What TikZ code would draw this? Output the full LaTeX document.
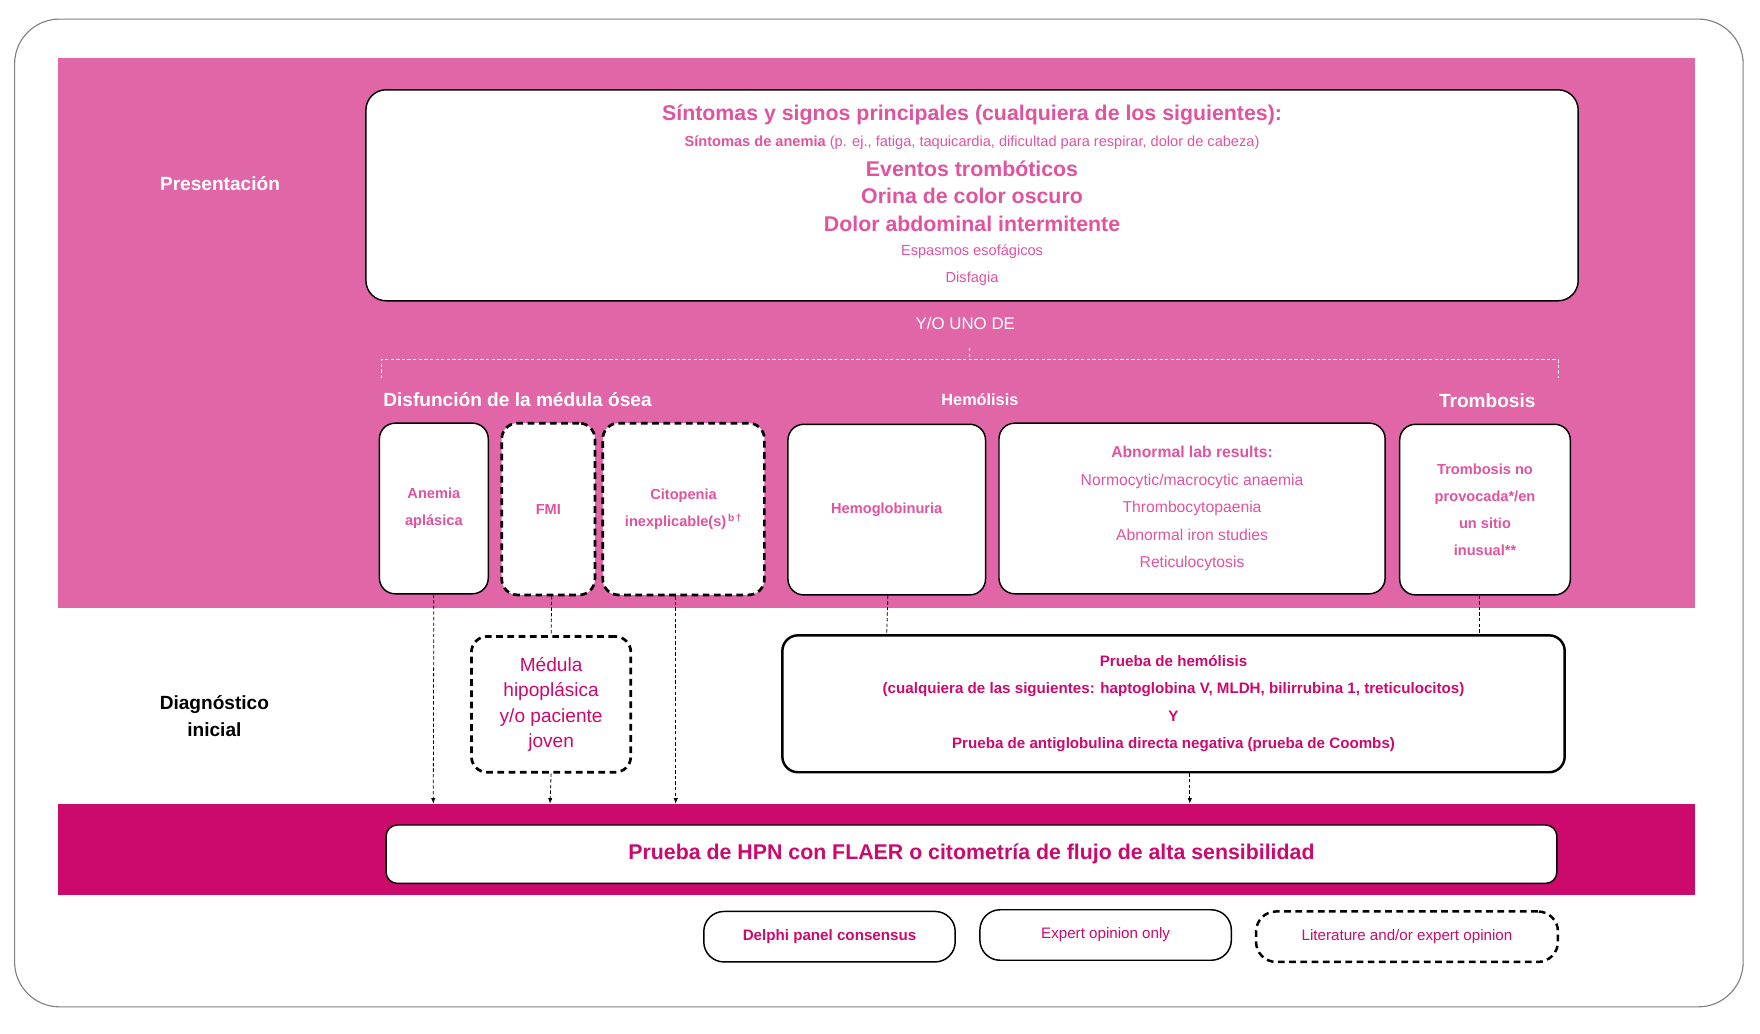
\documentclass[tikz,border=0pt]{standalone}
\usepackage{fontspec}
\setmainfont{Liberation Sans}
\usepackage{tikz}
\usetikzlibrary{arrows, positioning}
\definecolor{rosa}{HTML}{E166A7}
\definecolor{rosatxt}{HTML}{E0539E}
\definecolor{magenta}{HTML}{CC0A6E}
\begin{document}
\begin{tikzpicture}[x=1pt, y=-1pt,
    box/.style={rectangle, rounded corners=14pt, draw=black, line width=1.3pt, fill=white, align=center, text=rosatxt, font=\fontsize{13}{24}\selectfont\bfseries, inner sep=2pt},
    dbox/.style={box, dashed, line width=2.4pt, dash pattern=on 6pt off 4pt},
    leg/.style={rectangle, rounded corners=18pt, draw=black, line width=1.3pt, fill=white, text=magenta, font=\fontsize{13.5}{16}\selectfont, minimum width=224pt, minimum height=45pt},
    head/.style={text=white, font=\fontsize{17}{20}\selectfont\bfseries},
    link/.style={densely dashed, line width=0.7pt},
    arr/.style={link, -latex}]
    \useasboundingbox (0,0) rectangle (1568,921);
    \draw[gray, line width=1pt, rounded corners=40pt, fill=white] (13,17) rectangle (1553,897);
    \fill[rosa] (52,52) rectangle (1510,542);
    \fill[magenta] (52,716) rectangle (1510,797);
    % presentacion
    \node[head, font=\fontsize{17}{20}\selectfont\bfseries] (pres) at (196,164) {Presentación};
    \node[box, minimum width=1080pt, minimum height=188pt, rounded corners=18pt, font=\fontsize{13}{20}\selectfont] (sint) at (866,174) {};
    \node[text=rosatxt, align=center, font=\fontsize{19}{24.5}\selectfont\bfseries] (sinttxt) at (866,174) {%
        Síntomas y signos principales (cualquiera de los siguientes):\\[-1pt]
        {\fontsize{13}{20}\selectfont Síntomas de anemia \mdseries(p. ej., fatiga, taquicardia, dificultad para respirar, dolor de cabeza)}\\[2pt]
        Eventos trombóticos\\
        Orina de color oscuro\\
        Dolor abdominal intermitente\\[-3pt]
        {\fontsize{13}{23}\selectfont\mdseries Espasmos esofágicos}\\
        {\fontsize{13}{20}\selectfont\mdseries Disfagia}};
    \node[text=white, font=\fontsize{15}{18}\selectfont] (yo) at (860,288) {Y/O UNO DE};
    \coordinate (bl) at (340,337);
    \coordinate (br) at (1388,337);
    \coordinate (bm) at (864,310);
    \draw[white, link] (bl) |- (864,320) -| (br);
    \draw[white, link] (bm) -- (864,320);
    \node[head, anchor=west] (disf) at (338,356) {Disfunción de la médula ósea};
    \node[head, font=\fontsize{14.5}{18}\selectfont\bfseries] (hemo) at (873,356) {Hemólisis};
    \node[head] (trom) at (1325,357) {Trombosis};
    % row of boxes
    \node[box, minimum width=97pt, minimum height=152pt] (anemia) at (386.5,453) {Anemia\\aplásica};
    \node[dbox, minimum width=83pt, minimum height=153pt] (fmi) at (488.5,453.5) {FMI};
    \node[dbox, minimum width=144pt, minimum height=153pt] (cito) at (609,453.5) {Citopenia\\inexplicable(s)\textsuperscript{\,b\,†}};
    \node[box, minimum width=176pt, minimum height=152pt] (hglob) at (790,454) {Hemoglobinuria};
    \node[box, minimum width=344pt, minimum height=152pt, font=\fontsize{14}{24.5}\selectfont] (lab) at (1062,453) {\textbf{Abnormal lab results:}\\Normocytic/macrocytic anaemia\\Thrombocytopaenia\\Abnormal iron studies\\Reticulocytosis};
    \node[box, minimum width=152pt, minimum height=152pt] (tnp) at (1323,454) {Trombosis no\\provocada*/en\\un sitio\\inusual**};
    % diagnostico inicial
    \node[align=center, font=\fontsize{17}{24}\selectfont\bfseries] (diag) at (191,638) {Diagnóstico\\inicial};
    \node[dbox, minimum width=142pt, minimum height=121pt, font=\fontsize{17}{22.5}\selectfont, text=magenta] (medula) at (491,627.5) {Médula\\hipoplásica\\y/o paciente\\joven};
    \node[box, minimum width=697pt, minimum height=122pt, line width=2.2pt, text=magenta, font=\fontsize{13.5}{24.5}\selectfont\bfseries] (ptest) at (1045.5,627) {Prueba de hemólisis\\(cualquiera de las siguientes: haptoglobina V, MLDH, bilirrubina 1, treticulocitos)\\Y\\Prueba de antiglobulina directa negativa (prueba de Coombs)};
    \node[box, minimum width=1043pt, minimum height=52pt, rounded corners=10pt, text=magenta, font=\fontsize{19}{22}\selectfont\bfseries] (hpn) at (865.5,761) {Prueba de HPN con FLAER o citometría de flujo de alta sensibilidad};
    % connectors
    \coordinate (t1) at (386,716);
    \coordinate (t2) at (490,716);
    \coordinate (t3) at (602,716);
    \coordinate (t4) at (1060,716);
    \draw[arr] (anemia.south) -- (t1);
    \draw[link] (fmi.south) ++(3,0) -- (medula.north);
    \draw[arr] (medula.south) -- (t2);
    \draw[arr] (cito.south) ++(-7,0) -- (t3);
    \draw[link] (hglob.south) ++(1,0) -- (hglob.south |- ptest.north);
    \draw[link] (tnp.south) ++(-5,0) -- (1318,566);
    \draw[arr] (ptest.south) ++(14.5,0) -- (t4);
    % legend
    \node[leg, font=\fontsize{13.5}{16}\selectfont\bfseries] (delphi) at (739,834.5) {Delphi panel consensus};
    \node[leg] (expert) at (985,833) {Expert opinion only};
    \node[leg, minimum width=269pt, dashed, line width=2.2pt, dash pattern=on 6pt off 4pt] (lit) at (1253.5,834.5) {Literature and/or expert opinion};
\end{tikzpicture}
\end{document}
